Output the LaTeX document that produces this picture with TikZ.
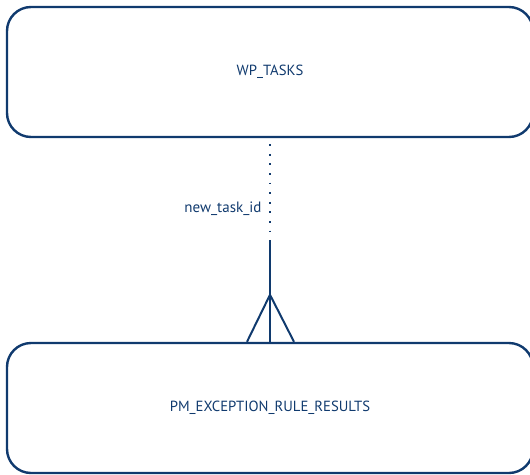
\documentclass[tikz,border=0pt]{standalone}
\usepackage{fontspec}
\setmainfont{PT Sans}
\usepackage{tikz}
\usetikzlibrary{positioning,calc}
\definecolor{erblue}{RGB}{16,58,110}

\tikzset{
  entity/.style={draw=erblue,line width=2.4pt,rounded corners=24pt,
    minimum width=526pt,minimum height=130pt,text=erblue,font=\fontsize{14.7}{17}\selectfont},
  relline/.style={draw=erblue,line width=2pt},
  dotline/.style={draw=erblue,line width=2.2pt,dash pattern=on 1.8pt off 7.8pt}
}

\begin{document}
\begin{tikzpicture}[x=1pt,y=-1pt]
\useasboundingbox (0,0) rectangle (530,474);
\clip (0,0) rectangle (530,474);

% Entities
\node[entity] (wptasks) at (270,72) {WP\_TASKS};
\node[entity] (pmresults) at (270,408) {PM\_EXCEPTION\_RULE\_RESULTS};

% Relationship: optional part dotted, then solid with crow's foot
\coordinate (split) at ($(wptasks.south)+(0,103)$);
\coordinate (apex) at ($(pmresults.north)+(0,-47)$);
\draw[dotline] ($(wptasks.south)+(0,6)$) -- (split);
\draw[relline] (split) -- (pmresults.north);
\draw[relline] ($(pmresults.north)+(-23,0)$) -- (apex) -- ($(pmresults.north)+(24,0)$);

\node[text=erblue,font=\fontsize{15}{17}\selectfont,anchor=east] (fklabel) at (265,209) {new\_task\_id};
\end{tikzpicture}
\end{document}
